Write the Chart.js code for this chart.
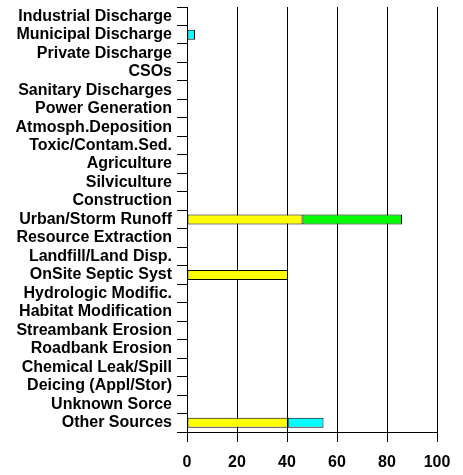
<!DOCTYPE html>
<html>
<head>
<meta charset="utf-8">
<script src="https://cdn.jsdelivr.net/npm/chart.js@4/dist/chart.umd.min.js"></script>
<style>
    html, body { margin: 0; padding: 0; background: #fff; }
    #wrap { width: 463px; height: 475px; }
</style>
</head>
<body>
<div id="wrap"><canvas id="chart"></canvas></div>
<script>
const CATEGORIES = [
    'Industrial Discharge',
    'Municipal Discharge',
    'Private Discharge',
    'CSOs',
    'Sanitary Discharges',
    'Power Generation',
    'Atmosph.Deposition',
    'Toxic/Contam.Sed.',
    'Agriculture',
    'Silviculture',
    'Construction',
    'Urban/Storm Runoff',
    'Resource Extraction',
    'Landfill/Land Disp.',
    'OnSite Septic Syst',
    'Hydrologic Modific.',
    'Habitat Modification',
    'Streambank Erosion',
    'Roadbank Erosion',
    'Chemical Leak/Spill',
    'Deicing (Appl/Stor)',
    'Unknown Sorce',
    'Other Sources'
];

const YELLOW_VALUES = [0, 0, 0, 0, 0, 0, 0, 0, 0, 0, 0, 46.2, 0, 0, 40.4, 0, 0, 0, 0, 0, 0, 0, 40.3];
const GREEN_VALUES  = [0, 0, 0, 0, 0, 0, 0, 0, 0, 0, 0, 39.8, 0, 0, 0, 0, 0, 0, 0, 0, 0, 0, 0];
const CYAN_VALUES   = [0, 3.2, 0, 0, 0, 0, 0, 0, 0, 0, 0, 0, 0, 0, 0, 0, 0, 0, 0, 0, 0, 0, 14.3];

const X_TICKS = [0, 20, 40, 60, 80, 100];

const font = { family: "'Liberation Sans', Arial, sans-serif", size: 16, weight: 'bold' };

function series(label, data, color) {
    return {
        label: label,
        data: data.map(v => v === 0 ? null : v),
        backgroundColor: color,
        borderColor: '#000',
        borderWidth: 1,
        borderSkipped: false,
        barPercentage: 0.54,
        categoryPercentage: 1
    };
}

new Chart(document.getElementById('chart'), {
    type: 'bar',
    data: {
        labels: CATEGORIES,
        datasets: [
            series('yellow', YELLOW_VALUES, '#ffff00'),
            series('green', GREEN_VALUES, '#00ff00'),
            series('cyan', CYAN_VALUES, '#00ffff')
        ]
    },
    options: {
        indexAxis: 'y',
        responsive: true,
        maintainAspectRatio: false,
        animation: false,
        layout: { padding: { left: 0, right: 26, top: 7, bottom: 0 } },
        plugins: {
            legend: { display: false },
            tooltip: { enabled: false }
        },
        scales: {
            x: {
                stacked: true,
                min: 0,
                max: 100,
                afterBuildTicks: scale => { scale.ticks = X_TICKS.map(v => ({ value: v })); },
                afterFit: scale => { scale.height = 43; },
                grid: { color: '#000', lineWidth: 1, drawTicks: true, tickLength: 10 },
                border: { display: true, color: '#000', width: 1 },
                ticks: { color: '#000', font: font, padding: 11, maxRotation: 0 }
            },
            y: {
                stacked: true,
                afterFit: scale => {
                    scale.width = 187;
                    // labels may stick out, the plot keeps its own top/bottom
                    scale.paddingTop = 0;
                    scale.paddingBottom = 0;
                },
                grid: { drawOnChartArea: false, color: '#000', drawTicks: true, tickLength: 10 },
                border: { display: true, color: '#000', width: 1 },
                ticks: { color: '#000', font: font, padding: 5, autoSkip: false }
            }
        }
    }
});
</script>
</body>
</html>
